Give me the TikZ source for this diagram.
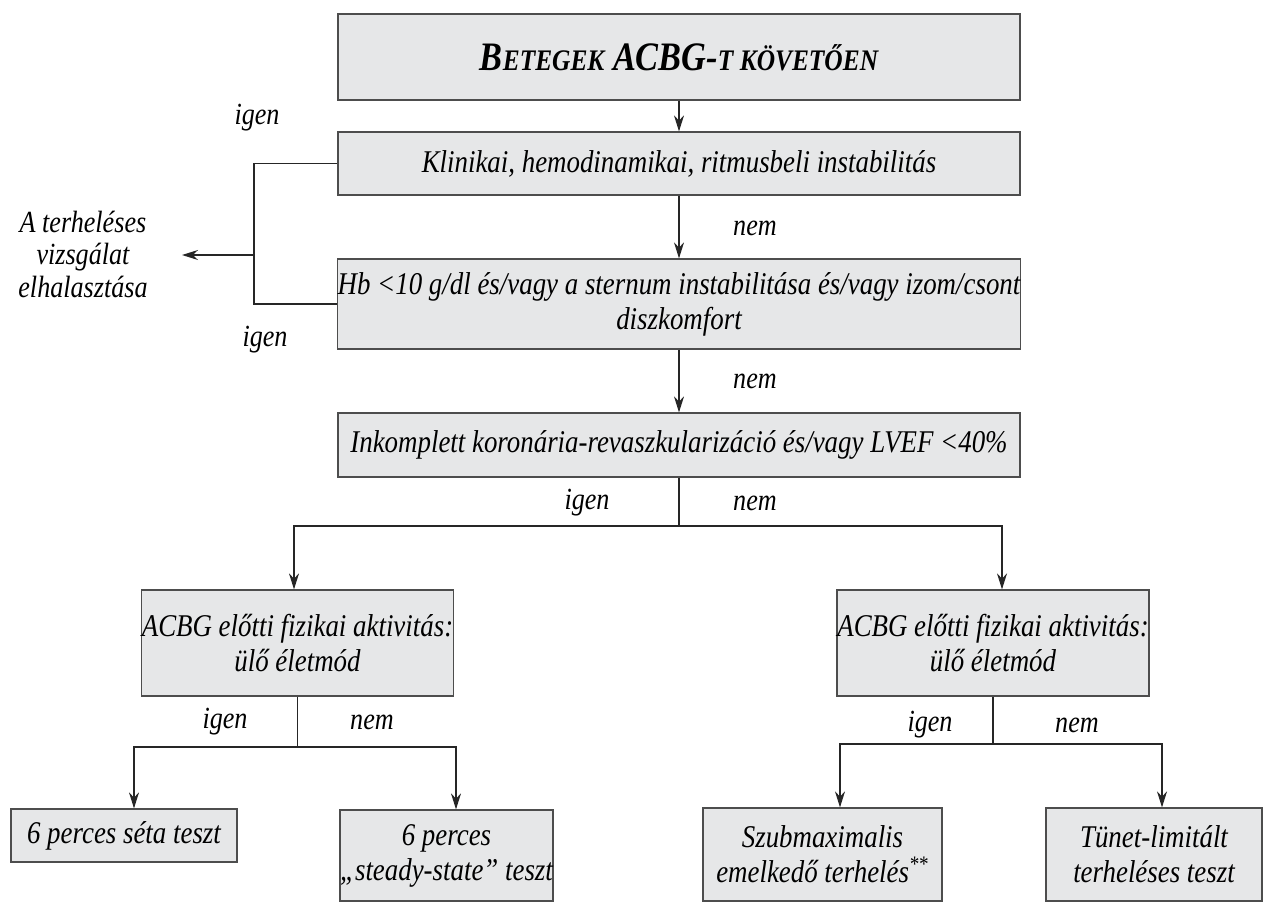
\documentclass[tikz,border=0pt]{standalone}
\usepackage{fontspec}
\setmainfont{Liberation Serif}[FakeStretch=0.85]
\usetikzlibrary{arrows.meta}

\definecolor{boxgray}{HTML}{E6E7E8}
\definecolor{boxline}{HTML}{4D4D4D}
\newcommand{\smcap}[1]{{\fontsize{17}{20}\selectfont #1}}

\tikzset{
  box/.style={draw=boxline, fill=boxgray, line width=0.7pt, align=center, inner sep=0pt,
    font=\fontsize{18}{20}\selectfont\itshape},
  line/.style={draw=black!85, line width=0.7pt},
  arr/.style={line, -{Stealth[length=0.32cm,width=0.2cm]}},
  lbl/.style={font=\fontsize{17.5}{18.5}\selectfont\itshape, inner sep=0pt, align=center},
}

\begin{document}
\begin{tikzpicture}[x=0.02cm, y=-0.02cm]
\useasboundingbox (0,0) rectangle (1264,903);

% main column
\node[box, minimum width=13.64cm, minimum height=1.72cm] (start) at (679,57)
  {\bfseries\fontsize{23}{26}\selectfont B\smcap{ETEGEK} ACBG-\smcap{T KÖVETŐEN}};
\node[box, minimum width=13.64cm, minimum height=1.26cm] (instab) at (679,163.5)
  {Klinikai, hemodinamikai, ritmusbeli instabilitás};
\node[box, minimum width=13.64cm, minimum height=1.8cm] (hb) at (679,304)
  {Hb <10 g/dl és/vagy a sternum instabilitása és/vagy izom/csont\\diszkomfort};
\node[box, minimum width=13.64cm, minimum height=1.28cm] (lvef) at (679,445)
  {Inkomplett koronária-revaszkularizáció és/vagy LVEF <40\%};

% second level
\node[box, minimum width=6.22cm, minimum height=2.12cm] (actL) at (297.5,643)
  {ACBG előtti fizikai aktivitás:\\ülő életmód};
\node[box, minimum width=6.24cm, minimum height=2.12cm] (actR) at (993,643)
  {ACBG előtti fizikai aktivitás:\\ülő életmód};

% tests
\node[box, minimum width=4.52cm, minimum height=1.06cm] (walk) at (124,835.5)
  {6 perces séta teszt};
\node[box, minimum width=4.26cm, minimum height=1.82cm] (steady) at (446.5,855.5)
  {6 perces\\„steady-state” teszt};
\node[box, minimum width=4.78cm, minimum height=1.86cm] (submax) at (822.5,854.5)
  {Szubmaximalis\\emelkedő terhelés\textsuperscript{**}};
\node[box, minimum width=4.32cm, minimum height=1.86cm] (symp) at (1154,854.5)
  {Tünet-limitált\\terheléses teszt};

% postpone
\node[lbl] (post) at (83,254) {A terheléses\\vizsgálat\\elhalasztása};

% labels
\node[lbl] (yes1) at (257,118) {igen};
\node[lbl] (yes2) at (265,340) {igen};
\node[lbl] (no1) at (755,228) {nem};
\node[lbl] (no2) at (755,381) {nem};
\node[lbl] (yes3) at (587,503) {igen};
\node[lbl] (no3) at (755,503) {nem};
\node[lbl] (yes4) at (225,722) {igen};
\node[lbl] (no4) at (372,722) {nem};
\node[lbl] (yes5) at (930,725) {igen};
\node[lbl] (no5) at (1077,725) {nem};

% connectors
\draw[arr] (start) -- (instab);
\draw[arr] (instab) -- (hb);
\draw[arr] (hb) -- (lvef);

\coordinate (l1) at (254,163.5);
\coordinate (l2) at (254,304);
\coordinate (l3) at (254,255);
\coordinate (l4) at (182,255);
\draw[line] (instab.west) -- (l1) -- (l2) -- (hb.west);
\draw[arr] (l3) -- (l4);

\coordinate (s1) at (679,526);
\draw[line] (lvef) -- (s1);
\draw[arr] (s1) -| ([xshift=-0.07cm]actL.north);
\draw[arr] (s1) -| ([xshift=0.18cm]actR.north);

\coordinate (s2) at (297.5,747);
\draw[line] (actL) -- (s2);
\draw[arr] (s2) -| ([xshift=0.2cm]walk.north);
\draw[arr] (s2) -| ([xshift=0.19cm]steady.north);

\coordinate (s3) at (993,744);
\draw[line] (actR) -- (s3);
\draw[arr] (s3) -| ([xshift=0.35cm]submax.north);
\draw[arr] (s3) -| ([xshift=0.16cm]symp.north);
\end{tikzpicture}
\end{document}
